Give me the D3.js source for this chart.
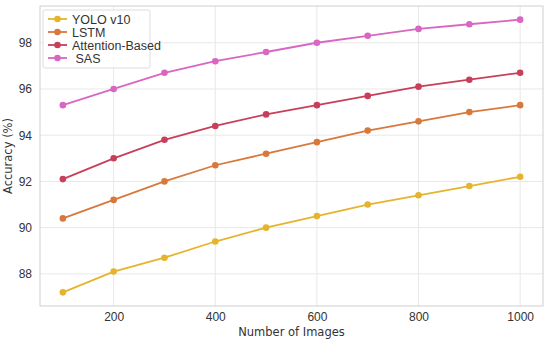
<!DOCTYPE html>
<html lang="en">
<head>
    <meta charset="UTF-8">
    <title>Accuracy vs Number of Images</title>
    <script src="https://d3js.org/d3.v7.min.js"></script>
    <style>
        body { margin: 0; background: #fff; }
        svg { display: block; font-family: "DejaVu Sans", sans-serif; }
        .tick text { font-size: 12px; fill: #333; }
        .axis-title { font-size: 11.5px; fill: #333; }
        .legend text { font-family: "Liberation Sans", Arial, sans-serif; font-size: 12.5px; fill: #333; white-space: pre; }
    </style>
</head>
<body>
    <svg width="550" height="340"></svg>

    <script>
        // Number of images on the x axis
        const images = [100, 200, 300, 400, 500, 600, 700, 800, 900, 1000];

        // Accuracy (%) per method
        const yolo = [87.2, 88.1, 88.7, 89.4, 90.0, 90.5, 91.0, 91.4, 91.8, 92.2];
        const lstm = [90.4, 91.2, 92.0, 92.7, 93.2, 93.7, 94.2, 94.6, 95.0, 95.3];
        const attention = [92.1, 93.0, 93.8, 94.4, 94.9, 95.3, 95.7, 96.1, 96.4, 96.7];
        const sas = [95.3, 96.0, 96.7, 97.2, 97.6, 98.0, 98.3, 98.6, 98.8, 99.0];

        const seriesNames = ["YOLO v10", "LSTM", "Attention-Based", " SAS"];
        const seriesValues = [yolo, lstm, attention, sas];
        const colors = ["#e6b42c", "#d8793c", "#c83f5a", "#d866c2"];

        const xTicks = [200, 400, 600, 800, 1000];
        const yTicks = [88, 90, 92, 94, 96, 98];

        // Plot area
        const margin = { top: 6, right: 7, bottom: 34, left: 40 };
        const width = 550 - margin.left - margin.right;
        const height = 340 - margin.top - margin.bottom;

        const svg = d3.select("svg")
            .append("g")
            .attr("transform", `translate(${margin.left},${margin.top})`);

        // matplotlib-like 5% padding around the data
        const x = d3.scaleLinear().domain([55, 1045]).range([0, width]);
        const y = d3.scaleLinear().domain([86.61, 99.59]).range([height, 0]);

        // Grid lines
        svg.append("g")
            .selectAll("line")
            .data(xTicks)
            .enter().append("line")
            .attr("x1", d => x(d)).attr("x2", d => x(d))
            .attr("y1", 0).attr("y2", height)
            .attr("stroke", "#e8e8e8").attr("stroke-width", 1);

        svg.append("g")
            .selectAll("line")
            .data(yTicks)
            .enter().append("line")
            .attr("x1", 0).attr("x2", width)
            .attr("y1", d => y(d)).attr("y2", d => y(d))
            .attr("stroke", "#e8e8e8").attr("stroke-width", 1);

        // Frame
        svg.append("rect")
            .attr("width", width).attr("height", height)
            .attr("fill", "none").attr("stroke", "#cfcfcf").attr("stroke-width", 1);

        // Axes (no tick marks, only labels)
        const xAxis = svg.append("g")
            .attr("transform", `translate(0,${height})`)
            .call(d3.axisBottom(x).tickValues(xTicks).tickFormat(d3.format("d")).tickSize(0).tickPadding(6));
        xAxis.select(".domain").remove();

        const yAxis = svg.append("g")
            .call(d3.axisLeft(y).tickValues(yTicks).tickSize(0).tickPadding(8));
        yAxis.select(".domain").remove();

        // Axis titles
        svg.append("text")
            .attr("class", "axis-title")
            .attr("x", width / 2).attr("y", height + 30)
            .attr("text-anchor", "middle")
            .text("Number of Images");

        svg.append("text")
            .attr("class", "axis-title")
            .attr("transform", `translate(${-28},${height / 2}) rotate(-90)`)
            .attr("text-anchor", "middle")
            .text("Accuracy (%)");

        // Lines and markers
        const line = d3.line()
            .x((d, i) => x(images[i]))
            .y(d => y(d));

        seriesValues.forEach((vals, k) => {
            svg.append("path")
                .datum(vals)
                .attr("d", line)
                .attr("fill", "none")
                .attr("stroke", colors[k])
                .attr("stroke-width", 1.8);

            svg.selectAll(".dot" + k)
                .data(vals)
                .enter().append("circle")
                .attr("class", "dot" + k)
                .attr("cx", (d, i) => x(images[i]))
                .attr("cy", d => y(d))
                .attr("r", 3.3)
                .attr("fill", colors[k]);
        });

        // Legend
        const legend = svg.append("g")
            .attr("class", "legend")
            .attr("transform", "translate(3,4)");

        legend.append("rect")
            .attr("width", 107).attr("height", 58)
            .attr("rx", 2)
            .attr("fill", "#fff").attr("fill-opacity", 0.85)
            .attr("stroke", "#dddddd");

        seriesNames.forEach((name, k) => {
            const ly = 9 + k * 13;
            legend.append("line")
                .attr("x1", 5).attr("x2", 24)
                .attr("y1", ly).attr("y2", ly)
                .attr("stroke", colors[k]).attr("stroke-width", 1.8);
            legend.append("circle")
                .attr("cx", 14.5).attr("cy", ly).attr("r", 3.3)
                .attr("fill", colors[k]);
            legend.append("text")
                .attr("x", 29).attr("y", ly + 4.5)
                .attr("xml:space", "preserve")
                .text(name);
        });
    </script>
</body>
</html>
